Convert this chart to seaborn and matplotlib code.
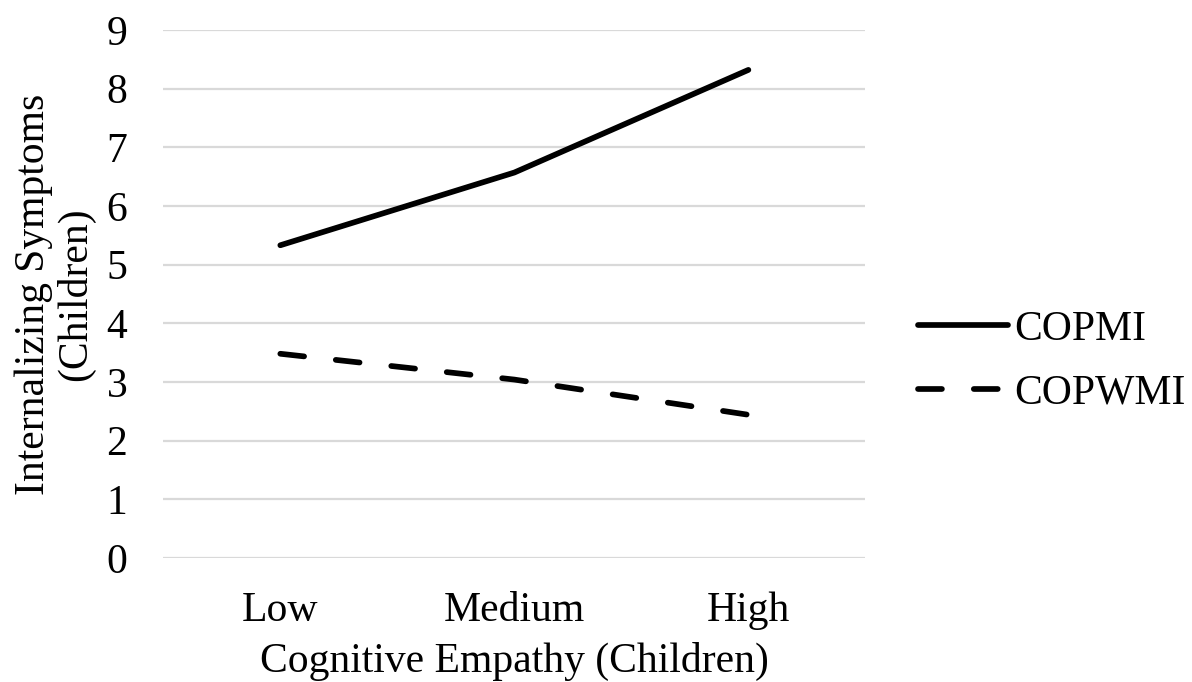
import pandas as pd
import seaborn as sns
import matplotlib.pyplot as plt

# values
levels = ["Low", "Medium", "High"]
copmi = [5.33, 6.57, 8.32]
copwmi = [3.48, 3.04, 2.44]

df = pd.DataFrame({
    "Empathy": levels * 2,
    "Symptoms": copmi + copwmi,
    "Group": ["COPMI"] * 3 + ["COPWMI"] * 3,
})

sns.set_style("white")
plt.rcParams["font.family"] = ["Liberation Serif", "DejaVu Serif"]
plt.rcParams["text.color"] = "black"
plt.rcParams["axes.labelcolor"] = "black"

fig = plt.figure(figsize=(11.92, 6.82), dpi=100)
ax = fig.add_axes([0.137, 0.182, 0.589, 0.774])

sns.lineplot(data=df, x="Empathy", y="Symptoms", style="Group", color="black",
             dashes={"COPMI": "", "COPWMI": (4.2, 5.6)}, linewidth=4.1,
             legend=True, ax=ax)

for line in ax.get_lines():
    line.set_dash_capstyle("round")
    line.set_solid_capstyle("round")
    line.set_clip_on(False)

ax.set_xlim(-0.5, 2.5)
ax.set_ylim(0, 9)
ax.set_yticks(range(0, 10))
ax.grid(axis="y", color="#d9d9d9", linewidth=1.6)
ax.set_axisbelow(True)
sns.despine(ax=ax, left=True, bottom=True)
ax.tick_params(axis="both", length=0, labelsize=30, colors="black")
ax.tick_params(axis="x", pad=24)
ax.tick_params(axis="y", pad=26)

ax.set_xlabel("Cognitive Empathy (Children)", fontsize=30, labelpad=9)
ax.set_ylabel("Internalizing Symptoms\n(Children)", fontsize=30, labelpad=8,
              linespacing=1.12)

handles, labels = ax.get_legend_handles_labels()
leg = ax.legend(handles, labels, loc="center left", bbox_to_anchor=(0.7387, 0.4705),
                bbox_transform=fig.transFigure, frameon=False, fontsize=30,
                handlelength=2.16, handletextpad=0.15, labelspacing=0.6)
for h in leg.get_lines():
    h.set_linewidth(4.1)
    h.set_dash_capstyle("round")
    h.set_solid_capstyle("round")

plt.savefig("out.png", dpi=100)
